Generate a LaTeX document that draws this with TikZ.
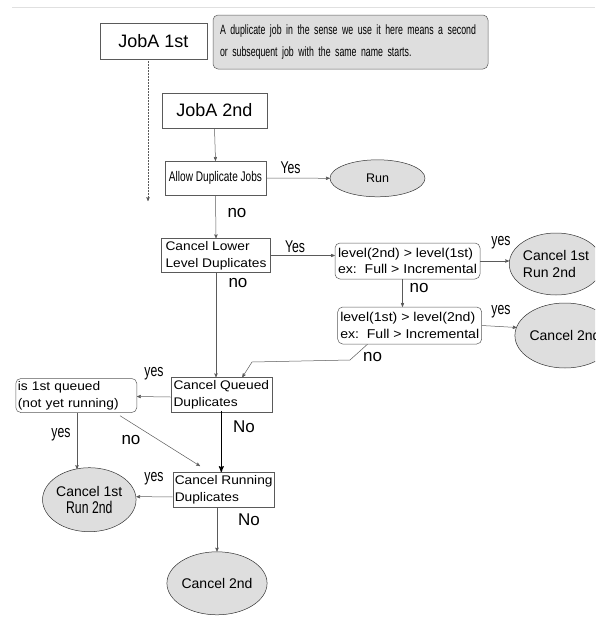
\documentclass[tikz,border=0pt]{standalone}
\usepackage{fontspec}
\setmainfont{Liberation Sans}
\newfontfamily\narrowfont[FakeStretch=0.72]{Liberation Sans}
\newfontfamily\notefont[FakeStretch=0.65]{Liberation Sans}
\newfontfamily\widefont[FakeStretch=1.1]{Liberation Sans}
\usetikzlibrary{calc}
\usetikzlibrary{positioning,arrows}
\usetikzlibrary{shapes}
\definecolor{linegray}{RGB}{90,90,90}
\definecolor{fillgray}{RGB}{222,222,222}
\tikzset{
  box/.style={draw=linegray, fill=white, inner sep=2pt, align=left},
  rbox/.style={box, rounded corners=5pt},
  oval/.style={ellipse, draw=black!80, fill=fillgray, inner sep=0pt},
  note/.style={draw=linegray, fill=fillgray, rounded corners=5pt, align=left, inner sep=0pt},
  lbl/.style={inner sep=0pt, font=\fontsize{17}{17}\selectfont},
  ylbl/.style={inner sep=0pt, font=\narrowfont\fontsize{17}{17}\selectfont},
  boxfont/.style={font=\widefont\fontsize{12.5}{16.7}\selectfont},
  levfont/.style={font=\widefont\fontsize{12.8}{16.7}\selectfont}
}

\begin{document}
\begin{tikzpicture}[x=1pt,y=-1pt,>=stealth',line width=0.5pt]
\useasboundingbox (0,0) rectangle (595,619);
\clip (0,0) rectangle (595,619);
\draw[black!12] (12,7) -- (595,7);
% boxes
\node[box, minimum width=107, minimum height=36, font=\fontsize{18}{18}\selectfont] (jobA1) at (153.5,41) {JobA 1st};
\node[note, minimum width=275, minimum height=54, text width=261, font=\notefont\fontsize{13.5}{21.5}\selectfont] (note) at (350.5,42) {A duplicate job in the sense we use it here means a second\\or subsequent job with the same name starts.};
\node[box, minimum width=105, minimum height=35, font=\fontsize{18}{18}\selectfont] (jobA2) at (214.5,110.5) {JobA 2nd};
\node[box, minimum width=101, minimum height=34, font=\narrowfont\fontsize{14}{14}\selectfont] (allow) at (215.5,178) {Allow Duplicate Jobs};
\node[oval, minimum width=95, minimum height=37, font=\fontsize{12.5}{12.5}\selectfont] (run) at (377.5,178.3) {Run};
\node[box, boxfont, minimum width=109, minimum height=34] (lower) at (216,255.5) {Cancel Lower\\Level Duplicates};
\node[rbox, levfont, minimum width=145, minimum height=36] (lvlA) at (407.5,261) {level(2nd) > level(1st)\\ex:\ \ Full > Incremental};
\node[oval, align=left, minimum width=82, minimum height=62, font=\fontsize{14}{16.7}\selectfont] (canA) at (556,264) {Cancel 1st\\Run 2nd};
\node[rbox, levfont, minimum width=144, minimum height=37] (lvlB) at (409.7,325.5) {level(1st) > level(2nd)\\ex:\ \ Full > Incremental};
\node[oval, minimum width=97, minimum height=65, font=\fontsize{14}{14}\selectfont] (canB) at (565,335.5) {Cancel 2nd};
\node[box, boxfont, minimum width=101, minimum height=35] (queued) at (221.3,395) {Cancel Queued\\Duplicates};
\node[rbox, boxfont, minimum height=34, text width=117] (first) at (76.3,395.5) {is 1st queued\\(not yet running)};
\node[oval, align=center, minimum width=93, minimum height=64, font=\fontsize{14}{16.7}\selectfont] (canC) at (89.3,499.7) {Cancel 1st\\{\narrowfont\fontsize{17}{16.7}\selectfont Run 2nd}};
\node[box, boxfont, minimum width=101, minimum height=35] (running) at (223.7,489.8) {Cancel Running\\Duplicates};
\node[oval, minimum width=93, minimum height=63, font=\fontsize{14}{14}\selectfont] (canD) at (217,583.3) {Cancel 2nd};
% labels
\node[ylbl] (yRun) at (290.5,168) {Yes};
\node[lbl] (nAllow) at (237,213) {no};
\node[ylbl] (yLower) at (295,247) {Yes};
\node[ylbl] (yLvlA) at (501,243) {yes};
\node[lbl] (nLvlA) at (419,288) {no};
\node[ylbl] (yLvlB) at (501,312) {yes};
\node[lbl] (nLvlB) at (372.5,357) {no};
\node[lbl] (nLower) at (238,283) {no};
\node[ylbl] (yQueued) at (154,374) {yes};
\node[ylbl] (yFirst) at (61,435) {yes};
\node[lbl] (nFirst) at (131,440) {no};
\node[lbl] (NQueued) at (244,427) {No};
\node[ylbl] (yRunning) at (154,479) {yes};
\node[lbl] (NRunning) at (249,520) {No};
% connectors
\coordinate (dotend) at (148,201);
\coordinate (diagend) at (200,466);
\coordinate (lvlAout) at ($(lvlA.south)+(-5,0)$);
\draw[->, linegray, densely dotted] (jobA1.south -| dotend) -- (dotend);
\draw[->, linegray] (jobA2.south) -- (allow.north);
\draw[->, linegray] (allow.east) -- (run.west);
\draw[->, linegray] (allow.south) -- (lower.north);
\draw[->, linegray] (lower.east) -- (lower.east -| lvlA.west);
\draw[->, linegray] (lvlA.east) -- (lvlA.east -| canA.west);
\draw[->, linegray] (lvlAout) -- (lvlAout |- lvlB.north);
\draw[->, linegray] (lvlB.east) -- ($(canB.west)+(2,-8)$);
\draw[->, linegray] ($(lvlB.south west)+(30,0)$) -- (350,360) -- (252,362) -- ($(queued.north)+(21,0)$);
\draw[->, linegray] (lower.south) -- (lower.south |- queued.north);
\draw[->, linegray] ($(queued.west)+(0,2)$) -- ($(first.east)+(0,1)$);
\draw[->, linegray] (first.south -| 77,0) -- (77,469);
\draw[->, linegray] ($(first.south east)+(-17,3)$) -- (diagend);
\draw[->, black, line width=1.1pt] ($(queued.south)+(0,-2)$) -- (queued.south |- running.north);
\draw[->, linegray] ($(running.west)+(0,7)$) -- ($(canC.east)+(0,-3)$);
\draw[->, linegray] (running.south -| canD.north) -- (canD.north);
\end{tikzpicture}
\end{document}
